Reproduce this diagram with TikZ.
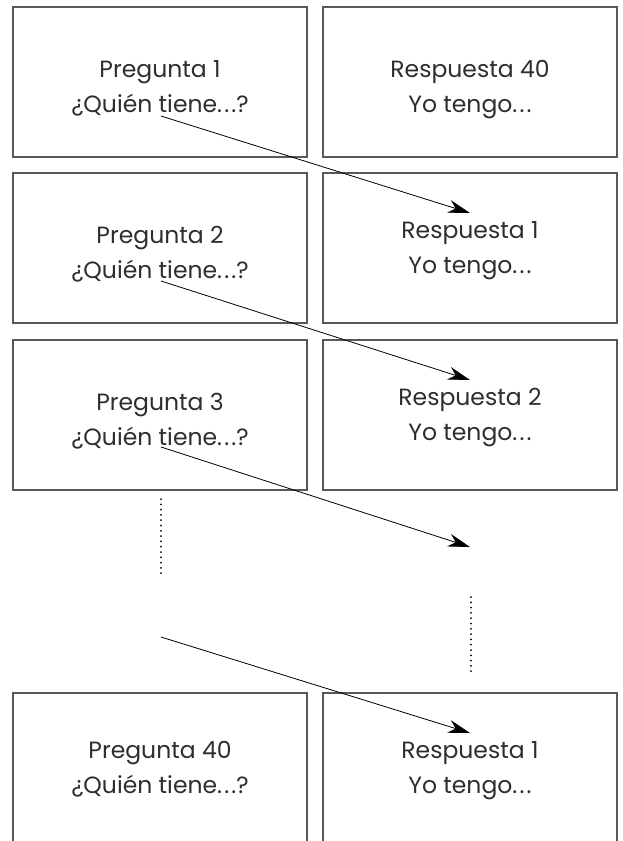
\documentclass[tikz,border=0pt]{standalone}
\usepackage{fontspec}
\setmainfont{Poppins}
\usetikzlibrary{arrows.meta}
\newcommand{\puntos}{.\kern2.2pt.\kern2.2pt.}
\begin{document}
\begin{tikzpicture}[x=1pt,y=-1pt,
  card/.style={draw=black!65,line width=1.2pt,rectangle,minimum width=294pt,minimum height=150pt,inner sep=0pt},
  label/.style={anchor=base,inner sep=0pt,font=\fontsize{23.5}{28}\selectfont,text=black!82},
  link/.style={line width=0.8pt,-{Stealth[length=22pt,width=13pt,inset=7pt]}},
  dots/.style={line width=2pt,line cap=round,dash pattern=on 0pt off 5.3pt}
]
\useasboundingbox (0,0) rectangle (623,841);
\clip (0,0) rectangle (623,841);
\fill[white] (0,0) rectangle (623,841);
% rows 1-3
\node[card] (q1) at (160,82) {};
\node[card] (r1) at (470,82) {};
\node[card] (q2) at (160,248) {};
\node[card] (r2) at (470,248) {};
\node[card] (q3) at (160,415) {};
\node[card] (r3) at (470,415) {};
% bottom row, open at the bottom
\node[card,minimum height=200pt] (q4) at (160,793) {};
\node[card,minimum height=200pt] (r4) at (470,793) {};
% texts
\node[label] (q1a) at (160,77) {Pregunta 1};
\node[label] (q1b) at (160,112) {¿Quién tiene\puntos?};
\node[label] (r1a) at (470,77) {Respuesta 40};
\node[label] (r1b) at (470,112) {Yo tengo\puntos};
\node[label] (q2a) at (160,243) {Pregunta 2};
\node[label] (q2b) at (160,278) {¿Quién tiene\puntos?};
\node[label] (r2a) at (470,238) {Respuesta 1};
\node[label] (r2b) at (470,273) {Yo tengo\puntos};
\node[label] (q3a) at (160,410) {Pregunta 3};
\node[label] (q3b) at (160,445) {¿Quién tiene\puntos?};
\node[label] (r3a) at (470,405) {Respuesta 2};
\node[label] (r3b) at (470,440) {Yo tengo\puntos};
\node[label] (q4a) at (160,758) {Pregunta 40};
\node[label] (q4b) at (160,793) {¿Quién tiene\puntos?};
\node[label] (r4a) at (470,758) {Respuesta 1};
\node[label] (r4b) at (470,793) {Yo tengo\puntos};
% arrow ends
\coordinate (s1) at (161,116); \coordinate (t1) at (470,213);
\coordinate (s2) at (161,281); \coordinate (t2) at (470,380);
\coordinate (s3) at (161,447); \coordinate (t3) at (470,547);
\coordinate (s4) at (161,637); \coordinate (t4) at (470,733);
\draw[link] (s1) -- (t1);
\draw[link] (s2) -- (t2);
\draw[link] (s3) -- (t3);
\draw[link] (s4) -- (t4);
% dotted gaps
\coordinate (d1a) at (161,499); \coordinate (d1b) at (161,574);
\coordinate (d2a) at (471,597); \coordinate (d2b) at (471,672);
\draw[dots] (d1a) -- (d1b);
\draw[dots] (d2a) -- (d2b);
\end{tikzpicture}
\end{document}
